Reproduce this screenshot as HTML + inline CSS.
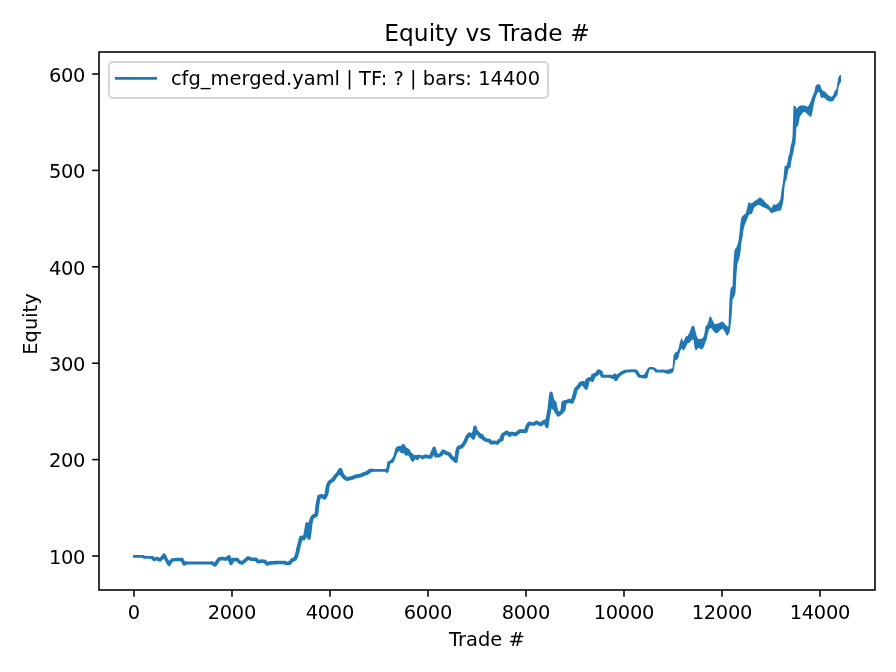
<!DOCTYPE html><html><head><meta charset="utf-8"><style>html,body{margin:0;padding:0;background:#fff;}svg{display:block;will-change:transform}text{font-family:"DejaVu Sans","Liberation Sans",sans-serif;fill:#000}</style></head><body>
<svg width="896" height="672" viewBox="0 0 896 672">
<rect x="0" y="0" width="896" height="672" fill="#fff"/>
<path d="M133.0 555.03 133.5 555.03 134.5 554.94 135.5 554.94 136.5 554.94 137.5 554.94 138.5 554.94 139.5 554.94 140.5 554.94 141.5 554.94 142.5 554.94 143.5 555.03 144.5 555.85 145.5 555.86 146.5 555.87 147.5 555.88 148.5 555.90 149.5 555.91 150.5 555.92 151.5 555.93 152.5 555.95 153.5 556.27 154.5 557.40 155.5 557.20 156.5 556.86 157.5 556.86 158.5 557.34 159.5 557.84 160.5 557.08 161.5 555.67 162.5 554.17 163.5 553.36 164.5 553.36 165.5 554.18 166.5 556.18 167.5 558.18 168.5 560.01 169.5 560.67 170.5 559.17 171.5 558.36 172.5 558.23 173.5 558.13 174.5 558.03 175.5 557.93 176.5 557.83 177.5 557.79 178.5 557.79 179.5 557.79 180.5 557.79 181.5 557.79 182.5 557.86 183.5 558.68 184.5 560.91 185.5 561.37 186.5 561.40 187.5 561.54 188.5 561.54 189.5 561.54 190.5 561.54 191.5 561.54 192.5 561.54 193.5 561.54 194.5 561.54 195.5 561.54 196.5 561.54 197.5 561.54 198.5 561.54 199.5 561.54 200.5 561.54 201.5 561.54 202.5 561.54 203.5 561.54 204.5 561.54 205.5 561.54 206.5 561.54 207.5 561.54 208.5 561.54 209.5 561.54 210.5 561.54 211.5 561.26 212.5 561.26 213.5 561.82 214.5 562.49 215.5 560.99 216.5 559.49 217.5 557.99 218.5 557.26 219.5 557.08 220.5 556.92 221.5 556.75 222.5 556.74 223.5 556.86 224.5 556.99 225.5 557.11 226.5 556.39 227.5 555.66 228.5 555.06 229.5 555.06 230.5 555.79 231.5 558.59 232.5 557.86 233.5 557.79 234.5 557.79 235.5 557.79 236.5 557.79 237.5 557.86 238.5 558.52 239.5 559.46 240.5 560.39 241.5 560.96 242.5 560.34 243.5 559.57 244.5 558.69 245.5 557.76 246.5 556.82 247.5 556.16 248.5 556.16 249.5 556.58 250.5 557.01 251.5 557.39 252.5 557.39 253.5 557.39 254.5 557.39 255.5 557.39 256.5 557.46 257.5 558.18 258.5 559.48 259.5 559.65 260.5 559.45 261.5 559.25 262.5 559.25 263.5 559.42 264.5 559.58 265.5 559.76 266.5 560.48 267.5 561.73 268.5 561.52 269.5 561.16 270.5 561.06 271.5 561.01 272.5 560.96 273.5 560.91 274.5 560.86 275.5 560.81 276.5 560.76 277.5 560.71 278.5 560.69 279.5 560.69 280.5 560.69 281.5 560.69 282.5 560.69 283.5 560.69 284.5 560.69 285.5 560.76 286.5 561.44 287.5 561.49 288.5 561.36 289.5 560.49 290.5 558.82 291.5 558.15 292.5 557.82 293.5 557.49 294.5 555.42 295.5 552.26 296.5 547.33 297.5 543.40 298.5 539.48 299.5 536.22 300.5 535.56 301.5 535.56 302.5 536.00 303.5 534.29 304.5 528.42 305.5 522.82 306.5 522.16 307.5 522.16 308.5 522.82 309.5 519.29 310.5 516.50 311.5 515.50 312.5 514.51 313.5 514.08 314.5 513.82 315.5 504.83 316.5 499.48 317.5 495.32 318.5 494.66 319.5 494.41 320.5 494.16 321.5 493.91 322.5 494.02 323.5 494.70 324.5 494.13 325.5 487.79 326.5 483.56 327.5 481.91 328.5 480.40 329.5 479.76 330.5 479.17 331.5 478.58 332.5 477.22 333.5 475.52 334.5 474.40 335.5 473.40 336.5 472.21 337.5 470.13 338.5 469.00 339.5 468.07 340.5 467.79 341.5 468.07 342.5 469.72 343.5 473.08 344.5 474.60 345.5 475.86 346.5 476.61 347.5 477.05 348.5 476.79 349.5 476.53 350.5 476.31 351.5 476.09 352.5 475.70 353.5 475.18 354.5 474.67 355.5 474.44 356.5 474.29 357.5 474.14 358.5 473.99 359.5 473.75 360.5 473.45 361.5 473.11 362.5 472.61 363.5 472.11 364.5 471.75 365.5 471.49 366.5 471.10 367.5 470.10 368.5 469.27 369.5 468.95 370.5 468.65 371.5 468.49 372.5 468.57 373.5 468.94 374.5 468.94 375.5 468.94 376.5 468.94 377.5 468.94 378.5 468.94 379.5 468.94 380.5 468.94 381.5 468.94 382.5 468.94 383.5 468.94 384.5 468.94 385.5 468.94 386.5 467.84 387.5 461.45 388.5 461.20 389.5 460.75 390.5 460.30 391.5 458.89 392.5 457.48 393.5 455.85 394.5 451.78 395.5 448.21 396.5 446.83 397.5 446.50 398.5 446.23 399.5 446.05 400.5 446.00 401.5 445.57 402.5 444.12 403.5 443.77 404.5 444.51 405.5 446.20 406.5 447.60 407.5 448.10 408.5 448.73 409.5 449.46 410.5 451.26 411.5 452.66 412.5 453.38 413.5 454.57 414.5 455.29 415.5 455.00 416.5 455.11 417.5 455.10 418.5 454.70 419.5 454.62 420.5 454.88 421.5 455.44 422.5 455.34 423.5 455.01 424.5 454.67 425.5 454.36 426.5 454.46 427.5 454.74 428.5 454.94 429.5 454.94 430.5 452.58 431.5 450.11 432.5 447.65 433.5 446.68 434.5 446.56 435.5 447.07 436.5 450.21 437.5 453.84 438.5 453.54 439.5 453.15 440.5 451.79 441.5 450.25 442.5 449.44 443.5 449.38 444.5 449.87 445.5 450.48 446.5 451.09 447.5 451.47 448.5 451.81 449.5 452.14 450.5 452.67 451.5 454.05 452.5 455.48 453.5 456.54 454.5 457.36 455.5 450.10 456.5 446.90 457.5 446.25 458.5 445.62 459.5 445.32 460.5 445.01 461.5 443.83 462.5 442.52 463.5 440.76 464.5 438.51 465.5 436.05 466.5 434.72 467.5 433.50 468.5 432.43 469.5 432.14 470.5 432.43 471.5 433.20 472.5 431.40 473.5 426.20 474.5 425.51 475.5 425.51 476.5 426.20 477.5 429.75 478.5 431.37 479.5 431.90 480.5 433.22 481.5 433.85 482.5 434.02 483.5 435.08 484.5 436.73 485.5 437.56 486.5 438.13 487.5 438.44 488.5 438.62 489.5 438.79 490.5 439.07 491.5 440.15 492.5 440.78 493.5 440.60 494.5 440.59 495.5 440.74 496.5 440.89 497.5 439.60 498.5 438.90 499.5 438.51 500.5 435.28 501.5 433.47 502.5 432.82 503.5 432.19 504.5 431.58 505.5 430.97 506.5 430.48 507.5 430.54 508.5 431.28 509.5 432.32 510.5 432.12 511.5 431.58 512.5 431.64 513.5 432.00 514.5 432.37 515.5 432.07 516.5 431.32 517.5 430.55 518.5 429.78 519.5 429.35 520.5 429.34 521.5 429.34 522.5 429.34 523.5 429.34 524.5 429.08 525.5 425.79 526.5 423.85 527.5 422.56 528.5 421.68 529.5 421.56 530.5 421.78 531.5 421.99 532.5 422.14 533.5 422.14 534.5 421.42 535.5 420.67 536.5 420.44 537.5 420.76 538.5 421.24 539.5 421.72 540.5 422.22 541.5 421.27 542.5 420.53 543.5 420.05 544.5 419.46 545.5 419.24 546.5 414.31 547.5 408.61 548.5 399.33 549.5 392.37 550.5 391.63 551.5 391.58 552.5 392.13 553.5 396.63 554.5 400.44 555.5 400.71 556.5 402.42 557.5 407.66 558.5 411.25 559.5 411.20 560.5 410.27 561.5 401.92 562.5 400.66 563.5 400.39 564.5 400.21 565.5 400.03 566.5 399.64 567.5 399.21 568.5 398.80 569.5 398.80 570.5 399.21 571.5 397.65 572.5 394.62 573.5 390.39 574.5 388.03 575.5 387.03 576.5 386.03 577.5 384.74 578.5 383.19 579.5 381.85 580.5 381.44 581.5 381.22 582.5 381.00 583.5 381.00 584.5 381.64 585.5 379.62 586.5 378.36 587.5 377.86 588.5 377.36 589.5 377.04 590.5 377.25 591.5 374.34 592.5 373.70 593.5 373.37 594.5 373.03 595.5 372.22 596.5 370.79 597.5 369.58 598.5 369.24 599.5 369.46 600.5 369.96 601.5 370.46 602.5 371.32 603.5 374.74 604.5 374.74 605.5 374.74 606.5 374.74 607.5 374.74 608.5 374.74 609.5 374.68 610.5 374.66 611.5 374.99 612.5 375.28 613.5 373.99 614.5 373.42 615.5 373.54 616.5 374.85 617.5 373.88 618.5 373.16 619.5 372.46 620.5 371.76 621.5 371.15 622.5 370.67 623.5 370.20 624.5 369.75 625.5 369.73 626.5 369.66 627.5 369.60 628.5 369.53 629.5 369.46 630.5 369.39 631.5 369.33 632.5 369.26 633.5 369.19 634.5 369.15 635.5 369.32 636.5 369.79 637.5 370.31 638.5 371.73 639.5 373.42 640.5 374.86 641.5 374.98 642.5 375.09 643.5 375.08 644.5 373.88 645.5 372.60 646.5 370.60 647.5 368.71 648.5 367.87 649.5 367.10 650.5 367.10 651.5 367.10 652.5 367.10 653.5 367.15 654.5 367.65 655.5 368.19 656.5 369.04 657.5 369.80 658.5 369.75 659.5 369.69 660.5 369.64 661.5 369.60 662.5 369.55 663.5 369.52 664.5 369.69 665.5 369.87 666.5 370.05 667.5 369.82 668.5 369.43 669.5 369.04 670.5 368.70 671.5 368.44 672.5 368.18 673.5 355.40 674.5 353.82 675.5 352.35 676.5 351.85 677.5 351.30 678.5 348.41 679.5 343.76 680.5 340.41 681.5 337.64 682.5 339.99 683.5 341.83 684.5 339.13 685.5 336.67 686.5 336.37 687.5 335.93 688.5 334.23 689.5 332.40 690.5 329.40 691.5 326.64 692.5 326.02 693.5 325.40 694.5 326.94 695.5 331.33 696.5 335.52 697.5 337.57 698.5 338.88 699.5 339.09 700.5 339.02 701.5 338.68 702.5 338.00 703.5 337.00 704.5 332.89 705.5 326.32 706.5 325.55 707.5 323.98 708.5 320.96 709.5 317.02 710.5 316.25 711.5 317.81 712.5 319.90 713.5 321.91 714.5 323.98 715.5 324.16 716.5 323.86 717.5 323.53 718.5 323.20 719.5 322.75 720.5 322.25 721.5 321.79 722.5 321.50 723.5 322.50 724.5 323.56 725.5 324.71 726.5 325.69 727.5 326.40 728.5 325.94 729.5 299.00 730.5 289.00 731.5 287.00 732.5 286.50 733.5 262.00 734.5 250.00 735.5 248.60 736.5 247.13 737.5 244.60 738.5 241.00 739.5 232.60 740.5 222.50 741.5 217.30 742.5 216.30 743.5 215.30 744.5 214.23 745.5 213.74 746.5 210.62 747.5 206.36 748.5 201.94 749.5 202.66 750.5 203.30 751.5 203.30 752.5 202.79 753.5 201.76 754.5 200.99 755.5 200.46 756.5 199.87 757.5 199.20 758.5 198.43 759.5 197.62 760.5 197.64 761.5 198.21 762.5 199.00 763.5 200.00 764.5 201.20 765.5 202.45 766.5 203.50 767.5 204.25 768.5 205.00 769.5 206.33 770.5 207.48 771.5 207.88 772.5 206.04 773.5 203.94 774.5 204.65 775.5 204.75 776.5 204.25 777.5 203.70 778.5 202.70 779.5 201.25 780.5 198.72 781.5 190.30 782.5 184.80 783.5 177.64 784.5 166.55 785.5 165.74 786.5 165.47 787.5 161.96 788.5 155.84 789.5 153.76 790.5 146.30 791.5 143.18 792.5 137.03 793.5 106.20 794.5 105.84 795.5 106.07 796.5 108.70 797.5 107.70 798.5 106.70 799.5 105.90 800.5 105.42 801.5 105.15 802.5 105.40 803.5 105.40 804.5 105.47 805.5 105.80 806.5 106.20 807.5 106.70 808.5 105.84 809.5 104.08 810.5 101.72 811.5 98.90 812.5 96.19 813.5 93.88 814.5 91.46 815.5 86.04 816.5 84.90 817.5 84.29 818.5 84.16 819.5 84.03 820.5 85.80 821.5 88.75 822.5 90.80 823.5 90.80 824.5 91.33 825.5 92.20 826.5 93.13 827.5 94.30 828.5 95.27 829.5 95.93 830.5 96.41 831.5 96.76 832.5 95.90 833.5 94.65 834.5 91.15 835.5 90.20 836.5 88.91 837.5 81.99 838.5 77.50 839.5 75.20 840.5 75.00 841.0 75.00 841.0 82.50 840.5 82.50 839.5 84.50 838.5 87.00 837.5 95.10 836.5 96.10 835.5 97.40 834.5 98.80 833.5 100.80 832.5 101.25 831.5 101.50 830.5 101.50 829.5 101.39 828.5 101.11 827.5 100.60 826.5 99.93 825.5 99.00 824.5 98.00 823.5 97.53 822.5 97.87 821.5 98.30 820.5 96.40 819.5 92.05 818.5 92.31 817.5 92.57 816.5 95.00 815.5 97.79 814.5 101.71 813.5 105.70 812.5 111.74 811.5 116.07 810.5 117.08 809.5 116.29 808.5 115.24 807.5 114.22 806.5 113.28 805.5 112.50 804.5 111.83 803.5 112.23 802.5 112.90 801.5 114.82 800.5 115.52 799.5 118.20 798.5 124.17 797.5 126.60 796.5 127.10 795.5 142.89 794.5 146.01 793.5 151.90 792.5 156.10 791.5 160.21 790.5 167.27 789.5 168.48 788.5 168.78 787.5 174.59 786.5 179.84 785.5 181.19 784.5 186.55 783.5 200.04 782.5 205.00 781.5 208.40 780.5 210.90 779.5 210.55 778.5 210.63 777.5 210.97 776.5 211.41 775.5 211.87 774.5 212.19 773.5 212.36 772.5 213.04 771.5 213.30 770.5 212.30 769.5 211.08 768.5 209.80 767.5 209.18 766.5 208.55 765.5 208.07 764.5 207.70 763.5 207.33 762.5 206.98 761.5 206.37 760.5 205.51 759.5 205.00 758.5 205.00 757.5 205.20 756.5 205.87 755.5 206.52 754.5 207.18 753.5 209.20 752.5 212.60 751.5 214.13 750.5 213.78 749.5 214.63 748.5 215.60 747.5 217.88 746.5 220.75 745.5 223.27 744.5 225.73 743.5 229.80 742.5 237.60 741.5 241.80 740.5 252.00 739.5 257.50 738.5 260.70 737.5 263.17 736.5 273.87 735.5 292.80 734.5 296.00 733.5 298.00 732.5 300.00 731.5 317.50 730.5 326.00 729.5 333.00 728.5 333.79 727.5 336.10 726.5 334.96 725.5 333.30 724.5 331.30 723.5 329.76 722.5 328.52 721.5 329.19 720.5 330.10 719.5 331.10 718.5 332.04 717.5 332.85 716.5 333.40 715.5 332.90 714.5 332.28 713.5 331.21 712.5 329.72 711.5 328.54 710.5 328.00 709.5 329.00 708.5 331.29 707.5 335.31 706.5 340.22 705.5 342.29 704.5 345.07 703.5 347.38 702.5 349.12 701.5 349.62 700.5 348.88 699.5 348.24 698.5 347.71 697.5 348.49 696.5 350.14 695.5 350.20 694.5 347.17 693.5 339.40 692.5 339.73 691.5 340.07 690.5 341.31 689.5 342.66 688.5 343.07 687.5 343.37 686.5 345.51 685.5 347.86 684.5 349.31 683.5 350.66 682.5 349.59 681.5 348.24 680.5 350.53 679.5 353.23 678.5 357.36 677.5 359.42 676.5 359.71 675.5 360.06 674.5 365.50 673.5 371.50 672.5 372.38 671.5 372.97 670.5 373.56 669.5 373.80 668.5 373.80 667.5 373.80 666.5 373.69 665.5 373.30 664.5 372.92 663.5 372.54 662.5 372.50 661.5 372.50 660.5 372.50 659.5 372.50 658.5 372.50 657.5 372.50 656.5 372.50 655.5 372.50 654.5 371.15 653.5 369.65 652.5 369.50 651.5 369.50 650.5 369.50 649.5 369.50 648.5 373.41 647.5 377.76 646.5 378.33 645.5 378.49 644.5 378.50 643.5 378.50 642.5 378.24 641.5 377.94 640.5 377.65 639.5 377.86 638.5 377.36 637.5 376.71 636.5 375.07 635.5 373.37 634.5 372.61 633.5 372.12 632.5 372.18 631.5 372.25 630.5 372.32 629.5 372.39 628.5 372.45 627.5 372.52 626.5 372.59 625.5 373.04 624.5 373.51 623.5 373.98 622.5 374.54 621.5 375.23 620.5 375.93 619.5 377.03 618.5 378.60 617.5 380.17 616.5 381.10 615.5 381.16 614.5 380.48 613.5 378.96 612.5 378.90 611.5 378.58 610.5 378.26 609.5 377.93 608.5 377.66 607.5 377.66 606.5 377.66 605.5 377.66 604.5 377.66 603.5 377.66 602.5 377.66 601.5 377.60 600.5 376.61 599.5 374.25 598.5 374.77 597.5 376.05 596.5 376.50 595.5 376.83 594.5 379.18 593.5 381.72 592.5 382.06 591.5 381.85 590.5 381.46 589.5 381.24 588.5 386.34 587.5 389.45 586.5 389.85 585.5 389.69 584.5 388.73 583.5 387.22 582.5 385.70 581.5 385.77 580.5 387.32 579.5 388.57 578.5 389.57 577.5 390.57 576.5 394.74 575.5 398.27 574.5 400.59 573.5 402.88 572.5 403.73 571.5 403.84 570.5 403.48 569.5 403.05 568.5 403.05 567.5 403.48 566.5 403.84 565.5 410.36 564.5 411.58 563.5 412.80 562.5 413.79 561.5 414.64 560.5 415.49 559.5 416.32 558.5 416.66 557.5 416.44 556.5 415.37 555.5 413.83 554.5 412.28 553.5 409.96 552.5 409.74 551.5 408.48 550.5 414.28 549.5 419.71 548.5 427.46 547.5 428.10 546.5 428.10 545.5 427.46 544.5 424.82 543.5 424.53 542.5 425.53 541.5 426.26 540.5 426.32 539.5 425.88 538.5 425.38 537.5 424.89 536.5 424.57 535.5 425.35 534.5 425.84 533.5 425.86 532.5 425.86 531.5 425.80 530.5 425.58 529.5 426.05 528.5 428.71 527.5 431.95 526.5 432.92 525.5 433.06 524.5 433.06 523.5 433.06 522.5 433.06 521.5 433.06 520.5 433.06 519.5 433.70 518.5 434.47 517.5 435.21 516.5 435.95 515.5 436.44 514.5 436.32 513.5 435.96 512.5 435.60 511.5 436.01 510.5 436.73 509.5 436.96 508.5 436.60 507.5 435.60 506.5 434.72 505.5 435.33 504.5 435.96 503.5 440.35 502.5 441.32 501.5 441.72 500.5 442.11 499.5 443.17 498.5 444.40 497.5 444.76 496.5 444.65 495.5 444.50 494.5 444.35 493.5 444.38 492.5 444.56 491.5 444.74 490.5 444.62 489.5 443.72 488.5 442.39 487.5 442.22 486.5 442.04 485.5 441.82 484.5 441.27 483.5 440.70 482.5 440.13 481.5 438.95 480.5 438.66 479.5 438.30 478.5 436.98 477.5 435.43 476.5 434.53 475.5 436.45 474.5 439.40 473.5 439.76 472.5 439.53 471.5 438.48 470.5 437.19 469.5 436.93 468.5 438.55 467.5 441.02 466.5 443.01 465.5 444.77 464.5 446.05 463.5 447.22 462.5 448.27 461.5 448.63 460.5 448.90 459.5 449.39 458.5 455.81 457.5 462.25 456.5 463.06 455.5 463.12 454.5 462.53 453.5 461.46 452.5 460.53 451.5 459.71 450.5 458.89 449.5 457.68 448.5 456.25 447.5 455.39 446.5 455.06 445.5 454.73 444.5 454.23 443.5 454.01 442.5 455.55 441.5 456.36 440.5 456.76 439.5 457.15 438.5 457.52 437.5 457.56 436.5 457.56 435.5 457.54 434.5 457.03 433.5 455.09 432.5 457.55 431.5 458.52 430.5 458.66 429.5 458.66 428.5 458.66 427.5 458.59 426.5 458.32 425.5 458.26 424.5 458.59 423.5 458.93 422.5 459.16 421.5 459.16 420.5 457.83 419.5 458.27 418.5 459.16 417.5 460.47 416.5 460.03 415.5 459.00 414.5 460.29 413.5 461.49 412.5 462.05 411.5 461.22 410.5 459.57 409.5 457.31 408.5 455.87 407.5 455.29 406.5 456.01 405.5 455.50 404.5 454.24 403.5 453.21 402.5 453.09 401.5 453.87 400.5 452.50 399.5 451.06 398.5 451.59 397.5 452.87 396.5 454.64 395.5 457.51 394.5 460.42 393.5 462.20 392.5 463.04 391.5 463.22 390.5 463.40 389.5 467.70 388.5 472.00 387.5 472.83 386.5 473.36 385.5 471.86 384.5 471.86 383.5 471.86 382.5 471.86 381.5 471.86 380.5 471.86 379.5 471.86 378.5 471.86 377.5 471.86 376.5 471.86 375.5 471.86 374.5 471.86 373.5 471.86 372.5 472.23 371.5 472.33 370.5 472.63 369.5 473.50 368.5 474.49 367.5 474.92 366.5 475.18 365.5 475.44 364.5 475.89 363.5 476.39 362.5 476.84 361.5 477.14 360.5 477.44 359.5 477.70 358.5 477.85 357.5 478.00 356.5 478.15 355.5 478.45 354.5 478.97 353.5 479.48 352.5 479.78 351.5 480.00 350.5 480.22 349.5 480.48 348.5 480.74 347.5 480.99 346.5 480.88 345.5 480.39 344.5 479.89 343.5 479.36 342.5 478.23 341.5 476.97 340.5 475.71 339.5 474.74 338.5 475.80 337.5 476.80 336.5 477.96 335.5 479.66 334.5 481.20 333.5 481.84 332.5 482.43 331.5 483.02 330.5 484.33 329.5 486.75 328.5 493.98 327.5 496.57 326.5 498.27 325.5 499.53 324.5 499.81 323.5 499.53 322.5 498.76 321.5 497.99 320.5 498.87 319.5 504.22 318.5 512.80 317.5 516.86 316.5 517.25 315.5 517.51 314.5 517.90 313.5 518.90 312.5 523.82 311.5 532.45 310.5 539.18 309.5 539.84 308.5 539.84 307.5 539.18 306.5 537.00 305.5 539.35 304.5 540.43 303.5 540.60 302.5 540.24 301.5 543.17 300.5 547.10 299.5 551.74 298.5 555.83 297.5 558.08 296.5 560.18 295.5 560.85 294.5 561.18 293.5 561.51 292.5 562.51 291.5 564.01 290.5 564.74 289.5 564.89 288.5 565.01 287.5 565.14 286.5 565.26 285.5 565.24 284.5 564.56 283.5 564.31 282.5 564.31 281.5 564.31 280.5 564.31 279.5 564.31 278.5 564.31 277.5 564.34 276.5 564.39 275.5 564.44 274.5 564.49 273.5 564.54 272.5 564.59 271.5 564.64 270.5 564.69 269.5 565.01 268.5 565.38 267.5 565.74 266.5 565.74 265.5 565.02 264.5 563.77 263.5 563.08 262.5 562.92 261.5 562.95 260.5 563.15 259.5 563.35 258.5 563.55 257.5 563.54 256.5 562.82 255.5 561.52 254.5 561.01 253.5 561.01 252.5 561.01 251.5 561.01 250.5 560.94 249.5 560.52 248.5 560.09 247.5 560.84 246.5 561.78 245.5 562.60 244.5 563.36 243.5 564.13 242.5 564.74 241.5 564.74 240.5 564.44 239.5 564.14 238.5 563.48 237.5 562.54 236.5 561.61 235.5 561.41 234.5 561.41 233.5 562.59 232.5 564.51 231.5 565.24 230.5 565.24 229.5 564.51 228.5 561.45 227.5 560.14 226.5 560.74 225.5 560.76 224.5 560.64 223.5 560.51 222.5 560.39 221.5 560.42 220.5 560.58 219.5 561.51 218.5 563.01 217.5 564.51 216.5 566.01 215.5 566.74 214.5 566.74 213.5 566.18 212.5 565.51 211.5 564.84 210.5 564.46 209.5 564.46 208.5 564.46 207.5 564.46 206.5 564.46 205.5 564.46 204.5 564.46 203.5 564.46 202.5 564.46 201.5 564.46 200.5 564.46 199.5 564.46 198.5 564.46 197.5 564.46 196.5 564.46 195.5 564.46 194.5 564.46 193.5 564.46 192.5 564.46 191.5 564.46 190.5 564.46 189.5 564.46 188.5 564.46 187.5 564.46 186.5 564.66 185.5 565.16 184.5 565.64 183.5 565.64 182.5 564.82 181.5 562.59 180.5 561.21 179.5 561.21 178.5 561.21 177.5 561.21 176.5 561.27 175.5 561.37 174.5 561.47 173.5 561.57 172.5 562.33 171.5 563.83 170.5 565.33 169.5 566.14 168.5 566.14 167.5 565.32 166.5 563.49 165.5 561.65 164.5 559.82 163.5 558.83 162.5 559.92 161.5 560.92 160.5 561.64 159.5 561.64 158.5 561.16 157.5 560.66 156.5 560.47 155.5 560.80 154.5 561.14 153.5 561.14 152.5 560.36 151.5 559.13 150.5 558.84 149.5 558.83 148.5 558.82 147.5 558.80 146.5 558.79 145.5 558.78 144.5 558.77 143.5 558.73 142.5 558.03 141.5 557.86 140.5 557.86 139.5 557.86 138.5 557.86 137.5 557.86 136.5 557.86 135.5 557.86 134.5 557.86 133.5 557.77 133.0 557.77Z" fill="#1f77b4" stroke="none"/>
<rect x="99.0" y="52.0" width="776.0" height="538.0" fill="none" stroke="#000" stroke-width="1.56" stroke-linejoin="miter"/>
<line x1="134.00" y1="590.0" x2="134.00" y2="596.80" stroke="#000" stroke-width="1.56"/>
<text x="134.00" y="618.8" font-size="19.44" text-anchor="middle">0</text>
<line x1="232.00" y1="590.0" x2="232.00" y2="596.80" stroke="#000" stroke-width="1.56"/>
<text x="232.00" y="618.8" font-size="19.44" text-anchor="middle" textLength="48.57" lengthAdjust="spacing">2000</text>
<line x1="330.00" y1="590.0" x2="330.00" y2="596.80" stroke="#000" stroke-width="1.56"/>
<text x="330.00" y="618.8" font-size="19.44" text-anchor="middle" textLength="48.57" lengthAdjust="spacing">4000</text>
<line x1="428.00" y1="590.0" x2="428.00" y2="596.80" stroke="#000" stroke-width="1.56"/>
<text x="428.00" y="618.8" font-size="19.44" text-anchor="middle" textLength="48.57" lengthAdjust="spacing">6000</text>
<line x1="526.00" y1="590.0" x2="526.00" y2="596.80" stroke="#000" stroke-width="1.56"/>
<text x="526.00" y="618.8" font-size="19.44" text-anchor="middle" textLength="48.57" lengthAdjust="spacing">8000</text>
<line x1="624.00" y1="590.0" x2="624.00" y2="596.80" stroke="#000" stroke-width="1.56"/>
<text x="624.00" y="618.8" font-size="19.44" text-anchor="middle" textLength="60.64" lengthAdjust="spacing">10000</text>
<line x1="722.00" y1="590.0" x2="722.00" y2="596.80" stroke="#000" stroke-width="1.56"/>
<text x="722.00" y="618.8" font-size="19.44" text-anchor="middle" textLength="60.64" lengthAdjust="spacing">12000</text>
<line x1="820.00" y1="590.0" x2="820.00" y2="596.80" stroke="#000" stroke-width="1.56"/>
<text x="820.00" y="618.8" font-size="19.44" text-anchor="middle" textLength="60.64" lengthAdjust="spacing">14000</text>
<line x1="92.20" y1="556.00" x2="99.0" y2="556.00" stroke="#000" stroke-width="1.56"/>
<text x="85.4" y="563.70" font-size="19.44" text-anchor="end" textLength="36.5" lengthAdjust="spacing">100</text>
<line x1="92.20" y1="459.60" x2="99.0" y2="459.60" stroke="#000" stroke-width="1.56"/>
<text x="85.4" y="467.30" font-size="19.44" text-anchor="end" textLength="36.5" lengthAdjust="spacing">200</text>
<line x1="92.20" y1="363.20" x2="99.0" y2="363.20" stroke="#000" stroke-width="1.56"/>
<text x="85.4" y="370.90" font-size="19.44" text-anchor="end" textLength="36.5" lengthAdjust="spacing">300</text>
<line x1="92.20" y1="266.80" x2="99.0" y2="266.80" stroke="#000" stroke-width="1.56"/>
<text x="85.4" y="274.50" font-size="19.44" text-anchor="end" textLength="36.5" lengthAdjust="spacing">400</text>
<line x1="92.20" y1="170.40" x2="99.0" y2="170.40" stroke="#000" stroke-width="1.56"/>
<text x="85.4" y="178.10" font-size="19.44" text-anchor="end" textLength="36.5" lengthAdjust="spacing">500</text>
<line x1="92.20" y1="74.00" x2="99.0" y2="74.00" stroke="#000" stroke-width="1.56"/>
<text x="85.4" y="81.70" font-size="19.44" text-anchor="end" textLength="36.5" lengthAdjust="spacing">600</text>
<text x="487" y="41.1" font-size="23.33" text-anchor="middle">Equity vs Trade #</text>
<text x="486.9" y="646.1" font-size="19.44" text-anchor="middle">Trade #</text>
<text transform="translate(37.0,324) rotate(-90)" x="0" y="0" font-size="19.44" text-anchor="middle">Equity</text>
<rect x="109" y="62" width="439" height="36" rx="3.9" ry="3.9" fill="#fff" fill-opacity="0.8" stroke="#d5d5d5" stroke-width="2"/>
<line x1="114.9" y1="78.4" x2="157" y2="78.4" stroke="#1f77b4" stroke-width="2.92" stroke-linecap="butt"/>
<text x="170.9" y="84.8" font-size="19.44" textLength="369.2" lengthAdjust="spacing">cfg_merged.yaml | TF: ? | bars: 14400</text>
</svg></body></html>
